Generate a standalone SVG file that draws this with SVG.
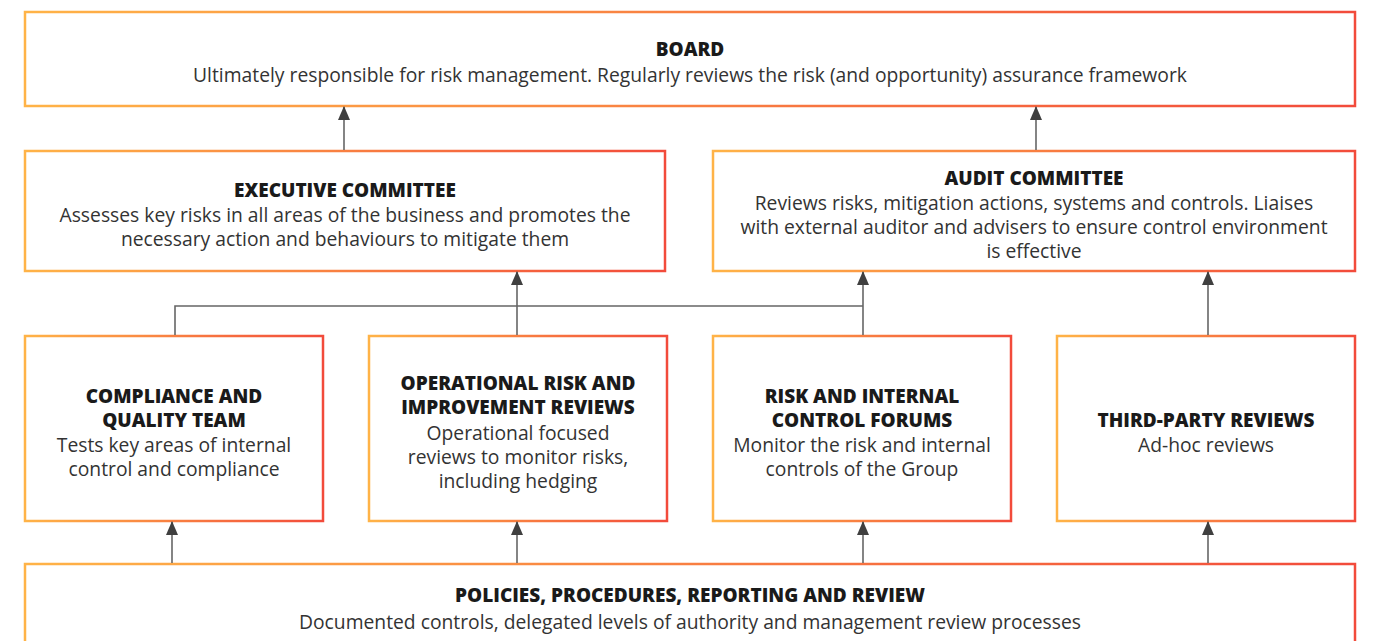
<svg xmlns="http://www.w3.org/2000/svg" width="1376" height="641" viewBox="0 0 1376 641">
<defs>
<linearGradient id="g" x1="0" y1="0" x2="1" y2="0">
<stop offset="0" stop-color="#ffb347"/>
<stop offset="1" stop-color="#f24b3b"/>
</linearGradient>
<marker id="ah" viewBox="0 0 14 12" refX="13" refY="6" markerWidth="14" markerHeight="12" markerUnits="userSpaceOnUse" orient="auto">
<path d="M0,0 L14,6 L0,12 Z" fill="#3f3f3f"/>
</marker>
</defs>
<style>
.box{fill:#fff;stroke:url(#g);stroke-width:2.5}
.t{font-family:"Open Sans","Noto Sans",sans-serif;font-size:19px;font-weight:800;fill:#1a1a1a;text-anchor:middle}
.b{font-family:"Open Sans","Noto Sans",sans-serif;font-size:19.3px;fill:#333;text-anchor:middle}
.c{fill:none;stroke:#666;stroke-width:1.6}
</style>
<rect width="1376" height="641" fill="#fff"/>
<g id="board">
<rect class="box" x="25" y="12" width="1330" height="94"/>
<text class="t" x="690" y="56">BOARD</text>
<text class="b" x="690" y="82">Ultimately responsible for risk management. Regularly reviews the risk (and opportunity) assurance framework</text>
</g>
<g id="exec">
<rect class="box" x="25" y="151" width="640" height="120"/>
<text class="t" x="345" y="197">EXECUTIVE COMMITTEE</text>
<text class="b" x="345" y="222">Assesses key risks in all areas of the business and promotes the</text>
<text class="b" x="345" y="246">necessary action and behaviours to mitigate them</text>
</g>
<g id="audit">
<rect class="box" x="713" y="151" width="642" height="120"/>
<text class="t" x="1034" y="185">AUDIT COMMITTEE</text>
<text class="b" x="1034" y="210">Reviews risks, mitigation actions, systems and controls. Liaises</text>
<text class="b" x="1034" y="234">with external auditor and advisers to ensure control environment</text>
<text class="b" x="1034" y="258">is effective</text>
</g>
<g id="compliance">
<rect class="box" x="25" y="336" width="298" height="185"/>
<text class="t" x="174" y="403">COMPLIANCE AND</text>
<text class="t" x="174" y="427">QUALITY TEAM</text>
<text class="b" x="174" y="452">Tests key areas of internal</text>
<text class="b" x="174" y="476">control and compliance</text>
</g>
<g id="operational">
<rect class="box" x="369" y="336" width="298" height="185"/>
<text class="t" x="518" y="390">OPERATIONAL RISK AND</text>
<text class="t" x="518" y="414">IMPROVEMENT REVIEWS</text>
<text class="b" x="518" y="440">Operational focused</text>
<text class="b" x="518" y="464">reviews to monitor risks,</text>
<text class="b" x="518" y="488">including hedging</text>
</g>
<g id="riskforums">
<rect class="box" x="713" y="336" width="298" height="185"/>
<text class="t" x="862" y="403">RISK AND INTERNAL</text>
<text class="t" x="862" y="427">CONTROL FORUMS</text>
<text class="b" x="862" y="452">Monitor the risk and internal</text>
<text class="b" x="862" y="476">controls of the Group</text>
</g>
<g id="thirdparty">
<rect class="box" x="1057" y="336" width="298" height="185"/>
<text class="t" x="1206" y="427">THIRD-PARTY REVIEWS</text>
<text class="b" x="1206" y="452">Ad-hoc reviews</text>
</g>
<g id="policies">
<rect class="box" x="25" y="564" width="1330" height="100"/>
<text class="t" x="690" y="602">POLICIES, PROCEDURES, REPORTING AND REVIEW</text>
<text class="b" x="690" y="629">Documented controls, delegated levels of authority and management review processes</text>
</g>
<g id="connectors">
<line class="c" x1="344" y1="150" x2="344" y2="107" marker-end="url(#ah)"/>
<line class="c" x1="1036" y1="150" x2="1036" y2="107" marker-end="url(#ah)"/>
<polyline class="c" points="175,335 175,306 863,306"/>
<line class="c" x1="517" y1="335" x2="517" y2="272" marker-end="url(#ah)"/>
<line class="c" x1="863" y1="335" x2="863" y2="272" marker-end="url(#ah)"/>
<line class="c" x1="1208" y1="335" x2="1208" y2="272" marker-end="url(#ah)"/>
<line class="c" x1="172" y1="563" x2="172" y2="522" marker-end="url(#ah)"/>
<line class="c" x1="517" y1="563" x2="517" y2="522" marker-end="url(#ah)"/>
<line class="c" x1="863" y1="563" x2="863" y2="522" marker-end="url(#ah)"/>
<line class="c" x1="1208" y1="563" x2="1208" y2="522" marker-end="url(#ah)"/>
</g>
</svg>
